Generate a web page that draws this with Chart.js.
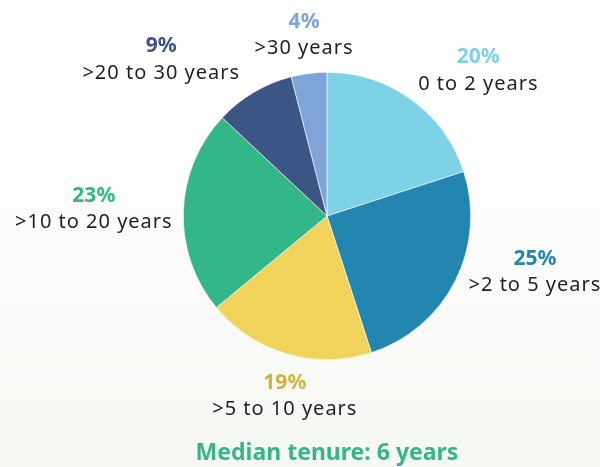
<!DOCTYPE html>
<html>
<head>
<meta charset="utf-8">
<script src="https://cdn.jsdelivr.net/npm/chart.js@4/dist/chart.umd.min.js"></script>
<style>
  html, body { margin: 0; padding: 0; }
  body {
    width: 600px; height: 467px; overflow: hidden;
    background: linear-gradient(to bottom, #ffffff 0px, #ffffff 110px, #f6f8f3 467px);
  }
  #wrap { position: relative; width: 600px; height: 467px; }
</style>
</head>
<body>
<div id="wrap"><canvas id="tenureChart" width="600" height="467"></canvas></div>
<script>
const categories = ['0 to 2 years', '>2 to 5 years', '>5 to 10 years', '>10 to 20 years', '>20 to 30 years', '>30 years'];
const shares = [20, 25, 19, 23, 9, 4];
const sliceColors = ['#7dd2e5', '#2386b0', '#efd35b', '#33b789', '#3d5584', '#7fa5d8'];
const pctColors = ['#7dd2e5', '#2386b0', '#d3b23b', '#33b789', '#3d5584', '#7fa5d8'];
const caption = 'Median tenure: 6 years';

const FONT = '"Noto Sans", sans-serif';

// tweaks so the callouts sit where the original puts them
const labelNudge = [10, -12, -3, 0, -16, 0];   // degrees
const labelPull = [-4, -9, -10, 0, 0, -2];     // px along the ray

const calloutLabels = {
  id: 'calloutLabels',
  afterDatasetsDraw(chart) {
    const ctx = chart.ctx;
    const arcs = chart.getDatasetMeta(0).data;
    ctx.save();
    ctx.textAlign = 'center';
    ctx.textBaseline = 'middle';
    arcs.forEach((arc, i) => {
      const p = arc.getProps(['x', 'y', 'startAngle', 'endAngle', 'outerRadius'], true);
      const mid = (p.startAngle + p.endAngle) / 2 + labelNudge[i] * Math.PI / 180;
      const dx = Math.cos(mid), dy = Math.sin(mid);
      ctx.font = '20px ' + FONT;
      ctx.letterSpacing = '1px';
      const w = ctx.measureText(categories[i]).width;
      const h = 50;
      const ext = (w / 2) * Math.abs(dx) + (h / 2) * Math.abs(dy);
      const dist = p.outerRadius + ext + 10 + labelPull[i];
      const cx = p.x + dx * dist, cy = p.y + dy * dist;
      ctx.font = 'bold 21px ' + FONT;
      ctx.letterSpacing = '0px';
      ctx.fillStyle = pctColors[i];
      ctx.fillText(shares[i] + '%', cx, cy - 13);
      ctx.font = '20px ' + FONT;
      ctx.letterSpacing = '1px';
      ctx.fillStyle = '#231f20';
      ctx.fillText(categories[i], cx, cy + 14);
    });
    ctx.font = 'bold 23px ' + FONT;
    ctx.letterSpacing = '0px';
    ctx.fillStyle = '#33b789';
    ctx.fillText(caption, arcs[0].x, 453);
    ctx.restore();
  }
};

new Chart(document.getElementById('tenureChart'), {
  type: 'pie',
  data: {
    labels: categories,
    datasets: [{
      data: shares,
      backgroundColor: sliceColors,
      borderColor: '#ffffff',
      borderWidth: 0.6
    }]
  },
  options: {
    responsive: false,
    animation: false,
    layout: { padding: { left: 183, right: 129, top: 72, bottom: 107 } },
    plugins: {
      legend: { display: false },
      tooltip: { enabled: false }
    }
  },
  plugins: [calloutLabels]
});
</script>
</body>
</html>
